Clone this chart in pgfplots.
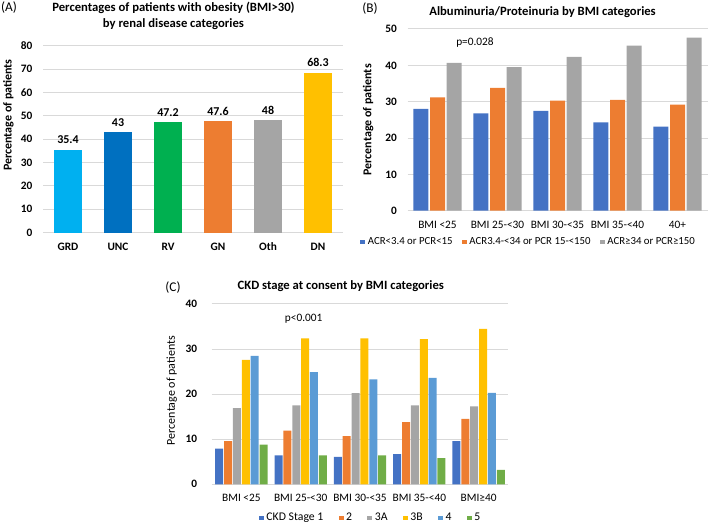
\documentclass[border=0pt]{standalone}
\usepackage{fontspec}
\setmainfont{Carlito}
\usepackage{pgfplots}
\pgfplotsset{compat=1.18}
\definecolor{gridgray}{HTML}{D9D9D9}
\definecolor{cGRD}{HTML}{00B0F0}
\definecolor{cUNC}{HTML}{0070C0}
\definecolor{cRV}{HTML}{00B050}
\definecolor{cBlue}{HTML}{4472C4}
\definecolor{cOrange}{HTML}{ED7D31}
\definecolor{cGray}{HTML}{A5A5A5}
\definecolor{cYellow}{HTML}{FFC000}
\definecolor{cLBlue}{HTML}{5B9BD5}
\definecolor{cGreen}{HTML}{70AD47}
\pgfplotsset{
  myaxis/.style={
    scale only axis,
    anchor=south west,
    axis line style={draw=none},
    major tick length=0pt,
    ymajorgrids,
    grid style={color=gridgray, line width=0.75pt},
    ymin=0,
    clip=false,
    /pgf/number format/assume math mode=true,
    yticklabel style={font=\fontsize{8.5}{10}\selectfont\bfseries, xshift=-4.5pt},
    xticklabel style={font=\fontsize{8.5}{10}\selectfont, yshift=-4pt},
    ylabel style={font=\fontsize{9}{11}\selectfont\bfseries, anchor=center},
    legend style={draw=none, fill=none, font=\fontsize{8.5}{10}\selectfont,
      legend columns=-1, anchor=center,
      inner sep=0pt},
    legend cell align=left,
  },
  sqlegend/.style={
    legend image code/.code={\fill[##1,draw=none] (0pt,-1.8pt) rectangle (3.6pt,1.8pt);},
  },
}
\begin{document}
\begin{tikzpicture}
\useasboundingbox (0,0) rectangle (531.75pt,394.5pt);
% Panel A
\begin{axis}[myaxis, at={(32.25pt,219.98pt)}, width=225pt, height=140.25pt,
  xmin=-0.5, xmax=5.5, ymax=80, ytick={0,10,...,80},
  xtick={0,...,5}, xticklabels={GRD,UNC,RV,GN,Oth,DN},
  xticklabel style={font=\fontsize{8.5}{10}\selectfont\bfseries},
  ybar, bar width=21.4pt, bar shift=0pt,
  nodes near coords,
  nodes near coords style={font=\fontsize{9}{10}\selectfont\bfseries, color=black, yshift=1pt},
  ylabel={Percentage of patients},
  ylabel style={at={(axis description cs:-0.115,0.629)}},
]
\addplot[fill=cGRD, draw=none] coordinates {(0,35.4)};
\addplot[fill=cUNC, draw=none] coordinates {(1,43)};
\addplot[fill=cRV, draw=none] coordinates {(2,47.2)};
\addplot[fill=cOrange, draw=none] coordinates {(3,47.6)};
\addplot[fill=cGray, draw=none] coordinates {(4,48)};
\addplot[fill=cYellow, draw=none] coordinates {(5,68.3)};
\end{axis}
% Panel B
\begin{axis}[myaxis, at={(305.63pt,236.48pt)}, width=225pt, height=136.28pt,
  xmin=-0.5, xmax=4.5, ymax=50, ytick={0,10,...,50},
  xtick={0,...,4}, xticklabels={BMI <25,BMI 25-<30,BMI 30-<35,BMI 35-<40,40+},
  ybar=1.25pt, bar width=11.25pt, sqlegend,
  ylabel={Percentage of patients},
  ylabel style={at={(axis description cs:-0.131,0.5)}},
  legend style={at={(axis description cs:0.405,-0.172)}, font=\fontsize{8.1}{10}\selectfont,
    /tikz/every even column/.append style={column sep=5pt}},
]
\addplot[fill=cBlue, draw=none] coordinates {(0,28.0) (1,26.8) (2,27.5) (3,24.3) (4,23.1)};
\addplot[fill=cOrange, draw=none] coordinates {(0,31.2) (1,33.8) (2,30.3) (3,30.5) (4,29.2)};
\addplot[fill=cGray, draw=none] coordinates {(0,40.7) (1,39.5) (2,42.3) (3,45.4) (4,47.6)};
\legend{ACR<3.4 or PCR<15, ACR3.4-<34 or PCR 15-<150, ACR≥34 or PCR≥150}
\node[font=\fontsize{8.5}{10}\selectfont] at (axis cs:0.625,46.2) {p=0.028};
\end{axis}
% Panel C
\begin{axis}[myaxis, at={(158.78pt,31.28pt)}, width=222.45pt, height=135.23pt,
  xmin=-0.5, xmax=4.5, ymax=40, ytick={0,10,...,40},
  yticklabel style={xshift=-3pt},
  xtick={0,...,4}, xticklabels={BMI <25,BMI 25-<30,BMI 30-<35,BMI 35-<40,BMI≥40},
  ybar=0.65pt, bar width=6pt, sqlegend,
  ylabel={Percentage of patients},
  ylabel style={at={(axis description cs:-0.135,0.52)}, font=\fontsize{9}{11}\selectfont},
  legend style={at={(axis description cs:0.537,-0.187)}, font=\fontsize{8.8}{10}\selectfont,
    /tikz/every even column/.append style={column sep=9.5pt}},
]
\addplot[fill=cBlue, draw=none] coordinates {(0,7.9) (1,6.4) (2,6.1) (3,6.7) (4,9.6)};
\addplot[fill=cOrange, draw=none] coordinates {(0,9.6) (1,11.9) (2,10.7) (3,13.8) (4,14.5)};
\addplot[fill=cGray, draw=none] coordinates {(0,16.9) (1,17.5) (2,20.2) (3,17.5) (4,17.3)};
\addplot[fill=cYellow, draw=none] coordinates {(0,27.6) (1,32.4) (2,32.4) (3,32.2) (4,34.5)};
\addplot[fill=cLBlue, draw=none] coordinates {(0,28.5) (1,24.9) (2,23.3) (3,23.6) (4,20.3)};
\addplot[fill=cGreen, draw=none] coordinates {(0,8.8) (1,6.4) (2,6.4) (3,5.8) (4,3.2)};
\legend{CKD Stage 1, 2, 3A, 3B, 4, 5}
\node[font=\fontsize{8.5}{10}\selectfont] at (axis cs:1.05,36.8) {p<0.001};
\end{axis}
% Titles and panel letters
\node[font=\fontsize{9.5}{11.8}\selectfont\bfseries, align=center] at (130.1pt,382.5pt)
  {Percentages of patients with obesity (BMI>30)\\by renal disease categories};
\node[font=\fontsize{9.5}{11.8}\selectfont\bfseries] at (406.9pt,385.7pt)
  {Albuminuria/Proteinuria by BMI categories};
\node[font=\fontsize{9.5}{11.8}\selectfont\bfseries] at (255.6pt,180pt)
  {CKD stage at consent by BMI categories};
\node[font=\fontsize{10}{12}\selectfont] at (6.75pt,388.5pt) {(A)};
\node[font=\fontsize{10}{12}\selectfont] at (277.5pt,387.75pt) {(B)};
\node[font=\fontsize{10}{12}\selectfont] at (129.75pt,178.5pt) {(C)};
\end{tikzpicture}
\end{document}
